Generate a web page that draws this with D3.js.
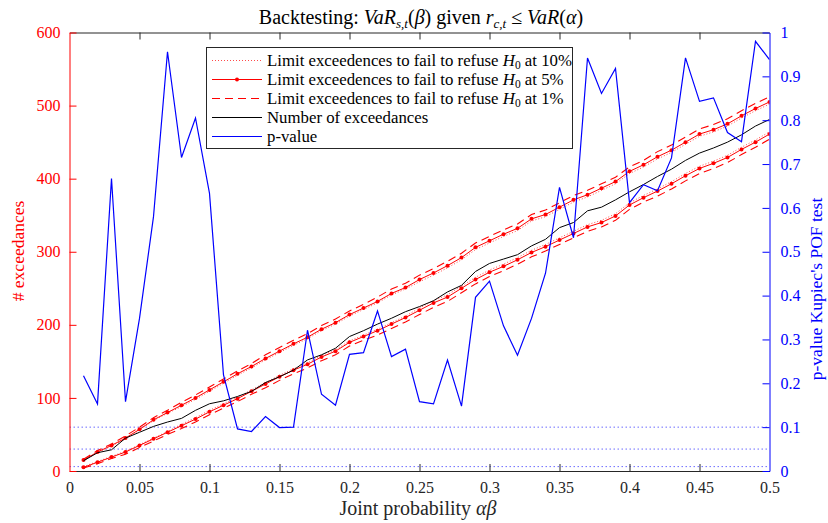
<!DOCTYPE html>
<html><head><meta charset="utf-8">
<script src="https://cdn.jsdelivr.net/npm/d3@7"></script>
<style>
body{margin:0;background:#fff}
svg{font-family:"Liberation Serif","DejaVu Serif",serif}
</style>
</head><body>
<svg id="c" width="828" height="523"></svg>
<script>
// ---- data ----
const jointProb = [0.01,0.02,0.03,0.04,0.05,0.06,0.07,0.08,0.09,0.10,
  0.11,0.12,0.13,0.14,0.15,0.16,0.17,0.18,0.19,0.20,
  0.21,0.22,0.23,0.24,0.25,0.26,0.27,0.28,0.29,0.30,
  0.31,0.32,0.33,0.34,0.35,0.36,0.37,0.38,0.39,0.40,
  0.41,0.42,0.43,0.44,0.45,0.46,0.47,0.48,0.49,0.50];
const upper10 = [14,25,34,44,56,69,79,88,98,109,120,131,141,152,162,172,181,192,201,212,221,230,241,249,259,268,278,289,303,312,321,329,342,348,358,368,375,384,393,407,416,427,436,447,458,464,472,483,493,502];
const lower10 = [6,13,20,27,36,45,54,64,73,83,92,101,111,121,131,140,148,158,166,178,186,194,203,212,223,233,241,253,265,275,283,292,302,310,319,328,337,343,352,367,377,386,396,407,417,424,432,443,453,464];
const upper5 = [15,26,35,45,57,70,80,90,100,111,122,133,143,154,164,174,183,194,203,214,223,232,243,251,262,271,281,292,306,315,324,332,345,351,361,371,378,387,396,410,419,430,439,450,461,467,475,486,496,505];
const lower5 = [5,12,19,26,35,44,53,62,71,81,90,99,109,119,129,138,146,156,164,176,184,192,201,210,220,230,238,250,262,272,280,289,299,307,316,325,334,340,349,364,374,383,393,404,414,421,429,440,450,461];
const upper1 = [16,28,37,48,60,73,83,94,104,115,126,137,147,159,169,179,188,199,208,219,228,238,249,257,268,277,287,298,312,321,330,338,351,357,367,377,384,393,402,416,425,437,446,457,468,474,482,493,503,512];
const lower1 = [4,10,17,23,32,41,50,58,67,77,86,95,105,114,124,133,141,151,159,171,179,186,195,204,214,224,232,244,256,266,274,283,293,301,310,319,328,334,343,358,368,376,386,397,407,414,422,433,443,454];
const exceedances = [14,25,29,45,53,61,67,72,83,92,96,102,109,121,129,138,152,159,168,184,192,201,209,218,225,233,245,254,273,284,290,296,308,317,333,340,356,361,371,382,392,403,413,425,435,442,450,460,472,481];
const pValue = [0.217,0.153,0.667,0.158,0.348,0.580,0.956,0.715,0.805,0.633,
  0.219,0.096,0.090,0.124,0.099,0.100,0.321,0.175,0.150,0.266,
  0.270,0.365,0.261,0.278,0.158,0.153,0.253,0.148,0.396,0.433,
  0.331,0.264,0.348,0.451,0.647,0.532,0.942,0.861,0.918,0.612,
  0.653,0.639,0.714,0.942,0.843,0.851,0.772,0.751,0.980,0.938];
const significance = [0.1,0.05,0.01];
const xTicks = [0,0.05,0.1,0.15,0.2,0.25,0.3,0.35,0.4,0.45,0.5];
const xTickLabels = ["0","0.05","0.1","0.15","0.2","0.25","0.3","0.35","0.4","0.45","0.5"];
const yLeftTicks = [0,100,200,300,400,500,600];
const yRightTicks = [0,0.1,0.2,0.3,0.4,0.5,0.6,0.7,0.8,0.9,1];
const yRightLabels = ["0","0.1","0.2","0.3","0.4","0.5","0.6","0.7","0.8","0.9","1"];

// ---- layout ----
const L=69.5, R=769.5, T=32.5, B=471;
const svg = d3.select("#c");
const x = d3.scaleLinear([0,0.5],[L,R]);
const yL = d3.scaleLinear([0,600],[B,T]);
const yR = d3.scaleLinear([0,1],[B,T]);
const RED="#ff0000", BLUE="#0000ff", AX="#262626";

svg.append("defs").append("clipPath").attr("id","clip")
  .append("rect").attr("x",L).attr("y",T).attr("width",R-L).attr("height",B-T);
const plot = svg.append("g").attr("clip-path","url(#clip)");

// significance lines
plot.selectAll("line.sig").data(significance).join("line")
  .attr("x1",L).attr("x2",R).attr("y1",d=>yR(d)).attr("y2",d=>yR(d))
  .attr("stroke","#6b6bff").attr("stroke-width",1).attr("stroke-dasharray","1.5,2.5");

const lineL = arr => d3.line().x((d,i)=>x(jointProb[i])).y(d=>yL(d))(arr);
const lineR = arr => d3.line().x((d,i)=>x(jointProb[i])).y(d=>yR(d))(arr);

[upper10,lower10].forEach(a=>plot.append("path").attr("d",lineL(a)).attr("fill","none")
  .attr("stroke",RED).attr("stroke-width",1).attr("stroke-dasharray","1,2").attr("opacity",0.7));
[upper5,lower5].forEach(a=>{
  plot.append("path").attr("d",lineL(a)).attr("fill","none").attr("stroke",RED).attr("stroke-width",1);
  plot.append("g").selectAll("circle").data(a).join("circle")
    .attr("cx",(d,i)=>x(jointProb[i])).attr("cy",d=>yL(d)).attr("r",2).attr("fill",RED);
});
[upper1,lower1].forEach(a=>plot.append("path").attr("d",lineL(a)).attr("fill","none")
  .attr("stroke",RED).attr("stroke-width",1.1).attr("stroke-dasharray","8,5"));
plot.append("path").attr("d",lineL(exceedances)).attr("fill","none").attr("stroke","#000").attr("stroke-width",1);
plot.append("path").attr("d",lineR(pValue)).attr("fill","none").attr("stroke",BLUE).attr("stroke-width",1.2);

// ---- axes ----
const fs = 16;
const gB = svg.append("g").attr("transform",`translate(0,${B})`)
  .call(d3.axisBottom(x).tickValues(xTicks).tickFormat((d,i)=>xTickLabels[i]).tickSize(-7).tickSizeOuter(0).tickPadding(11));
const gT = svg.append("g").attr("transform",`translate(0,${T})`)
  .call(d3.axisTop(x).tickValues(xTicks).tickFormat("").tickSize(-7).tickSizeOuter(0));
[gB,gT].forEach(g=>{g.selectAll("path,line").attr("stroke",AX);g.selectAll("text").attr("fill",AX).attr("font-size",fs).attr("font-family","Liberation Serif");});
gT.selectAll(".tick").filter((d,i)=>i===0||i===xTicks.length-1).remove();
gB.selectAll(".tick line").filter((d,i)=>i===0||i===xTicks.length-1).remove();

const gLft = svg.append("g").attr("transform",`translate(${L},0)`)
  .call(d3.axisLeft(yL).tickValues(yLeftTicks).tickSize(-7).tickSizeOuter(0).tickPadding(9));
gLft.selectAll("path,line").attr("stroke",RED);
gLft.selectAll("text").attr("fill",RED).attr("font-size",fs).attr("font-family","Liberation Serif");

const gRt = svg.append("g").attr("transform",`translate(${R},0)`)
  .call(d3.axisRight(yR).tickValues(yRightTicks).tickFormat((d,i)=>yRightLabels[i]).tickSize(-7).tickSizeOuter(0).tickPadding(11));
gRt.selectAll("path,line").attr("stroke",BLUE);
gRt.selectAll("text").attr("fill",BLUE).attr("font-size",fs).attr("font-family","Liberation Serif");

// ---- titles ----
const title = svg.append("text").attr("x",421).attr("y",24).attr("text-anchor","middle").attr("font-size",20).attr("fill","#000");
title.append("tspan").text("Backtesting: ");
title.append("tspan").attr("font-style","italic").text("VaR");
title.append("tspan").attr("font-style","italic").attr("font-size",13).attr("dy",4).text("s,t");
title.append("tspan").attr("dy",-4).text("(");
title.append("tspan").attr("font-style","italic").text("β");
title.append("tspan").text(") given ");
title.append("tspan").attr("font-style","italic").text("r");
title.append("tspan").attr("font-style","italic").attr("font-size",13).attr("dy",4).text("c,t");
title.append("tspan").attr("dy",-4).text(" ≤ ");
title.append("tspan").attr("font-style","italic").text("VaR");
title.append("tspan").text("(");
title.append("tspan").attr("font-style","italic").text("α");
title.append("tspan").text(")");

const xl = svg.append("text").attr("x",418).attr("y",515).attr("text-anchor","middle").attr("font-size",20).attr("fill",AX);
xl.append("tspan").text("Joint probability ");
xl.append("tspan").attr("font-style","italic").text("αβ");

svg.append("text").attr("transform","translate(24,251) rotate(-90)").attr("text-anchor","middle")
  .attr("font-size",17.5).attr("fill",RED).text("# exceedances");
svg.append("text").attr("transform","translate(822,289) rotate(-90)").attr("text-anchor","middle")
  .attr("font-size",17.5).attr("fill",BLUE).text("p-value Kupiec's POF test");

// ---- legend ----
const leg = svg.append("g");
leg.append("rect").attr("x",206.5).attr("y",47.5).attr("width",366).attr("height",101)
  .attr("fill","#fff").attr("stroke",AX).attr("stroke-width",1);
const legItems = [
  {label:"10%", color:RED, dash:"1,2", op:0.7, marker:false, h:true},
  {label:"5%", color:RED, dash:null, op:1, marker:true, h:true},
  {label:"1%", color:RED, dash:"8,5", op:1, marker:false, h:true},
  {label:"Number of exceedances", color:"#000", dash:null, op:1, marker:false, h:false},
  {label:"p-value", color:BLUE, dash:null, op:1, marker:false, h:false}
];
const rowY = [60.5,79.5,98.5,117.5,136.5];
legItems.forEach((it,i)=>{
  const y=rowY[i];
  leg.append("line").attr("x1",212).attr("x2",262).attr("y1",y).attr("y2",y)
    .attr("stroke",it.color).attr("stroke-width",it.color===BLUE?1.2:1).attr("stroke-dasharray",it.dash).attr("opacity",it.op);
  if(it.marker) leg.append("circle").attr("cx",237).attr("cy",y).attr("r",2).attr("fill",RED);
  const t = leg.append("text").attr("x",267).attr("y",y+5).attr("font-size",16.8).attr("fill","#000");
  if(it.h){
    t.append("tspan").text("Limit exceedences to fail to refuse ");
    t.append("tspan").attr("font-style","italic").text("H");
    t.append("tspan").attr("font-size",11.5).attr("dy",3).text("0");
    t.append("tspan").attr("dy",-3).text(" at "+it.label);
  } else t.text(it.label);
});
</script>
</body></html>
